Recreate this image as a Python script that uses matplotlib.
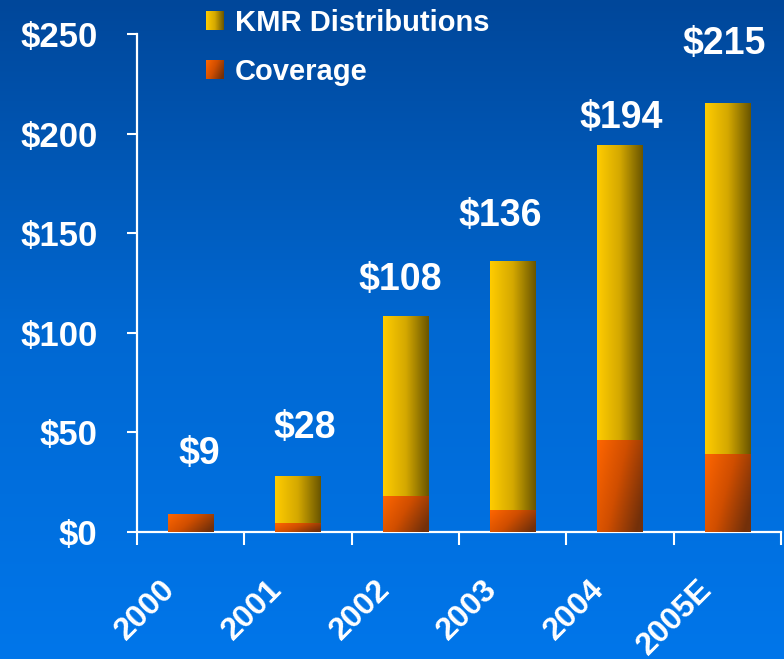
import numpy as np
import matplotlib.pyplot as plt
from matplotlib.colors import LinearSegmentedColormap, Normalize
from matplotlib.patches import Rectangle
from matplotlib.legend_handler import HandlerBase
from matplotlib.image import BboxImage
from matplotlib.transforms import Bbox, TransformedBbox, ScaledTranslation

plt.rcParams['font.family'] = ['Liberation Sans', 'DejaVu Sans']
plt.rcParams['font.weight'] = 'bold'

# data
years = ['2000', '2001', '2002', '2003', '2004', '2005E']
coverage = [9, 4.5, 18, 11, 46, 39]
totals = [9, 28, 108, 136, 194, 215]
kmr = [t - c for t, c in zip(totals, coverage)]
total_labels = ['$9', '$28', '$108', '$136', '$194', '$215']
label_gap = [30, 24, 18.5, 22.5, 14, 30]   # label height above each bar
label_dx = [6, 5, -4, -9, 1, -2]           # small sideways nudge, points
yticks = [0, 50, 100, 150, 200, 250]
ytick_labels = ['$0', '$50', '$100', '$150', '$200', '$250']

yellow = LinearSegmentedColormap.from_list('yel', ['#ffcc00', '#d4a800', '#6a5600'])
orange = LinearSegmentedColormap.from_list('org', ['#ff6600', '#d04e00', '#73300a'])


def grad(kind, n=64):
    xf = np.linspace(0, 1, n)[None, :]
    yf = np.linspace(0, 1, n)[:, None]
    if kind == 'h':
        return np.repeat(xf, n, axis=0)
    return np.clip(0.75 * xf + 0.35 * yf, 0, 1)


fig = plt.figure(figsize=(7.84, 6.59), dpi=100)

# blue background
bg = fig.add_axes([0, 0, 1, 1], zorder=-1)
bgmap = LinearSegmentedColormap.from_list('bg', ['#00479a', '#0068d2', '#0076ea'])
bg.imshow(np.linspace(0, 1, 256)[:, None], cmap=bgmap, aspect='auto', extent=[0, 1, 0, 1])
bg.axis('off')

ax = fig.add_axes([137/784, 1 - 532/659, 644/784, 498/659])
ax.set_facecolor('none')

x = np.arange(len(years))
w = 0.42
b1 = ax.bar(x, coverage, w, color='#e05500', zorder=2)
b2 = ax.bar(x, kmr, w, bottom=coverage, color='#d4a800', zorder=2)

# gradient fill on top of each bar
for bars, cmap, kind in [(b1, orange, 'd'), (b2, yellow, 'h')]:
    for p in bars:
        if p.get_height() <= 0:
            continue
        x0, y0 = p.get_x(), p.get_y()
        ax.imshow(grad(kind), cmap=cmap, norm=Normalize(0, 1), aspect='auto',
                  extent=[x0, x0 + p.get_width(), y0, y0 + p.get_height()],
                  zorder=3, interpolation='bilinear')

for i in range(len(years)):
    ax.annotate(total_labels[i], (x[i], totals[i] + label_gap[i]),
                xytext=(label_dx[i], 0), textcoords='offset points',
                ha='center', va='center', color='white', fontsize=27, fontweight='bold')

ax.set_xlim(-0.5, len(years) - 0.5)
ax.set_ylim(0, 250)

for s in ['top', 'right']:
    ax.spines[s].set_visible(False)
for s in ['left', 'bottom']:
    ax.spines[s].set_color('white')
    ax.spines[s].set_linewidth(1.6)

ax.set_yticks(yticks)
ax.set_yticklabels(ytick_labels)
ax.tick_params(axis='y', colors='white', length=7.5, width=1.5, pad=21, labelsize=25)

ax.set_xticks(x)
ax.set_xticklabels(years, rotation=45, ha='right', va='center', rotation_mode='anchor')
ax.set_xticks(np.arange(-0.5, len(years)), minor=True)
ax.tick_params(axis='x', which='major', length=0, pad=38, labelsize=23, labelcolor='white')
ax.tick_params(axis='x', which='minor', length=9, width=1.5, color='white')
shift = ScaledTranslation(-20/100, 0, fig.dpi_scale_trans)
for lab in ax.get_xticklabels():
    lab.set_transform(lab.get_transform() + shift)


class GradHandler(HandlerBase):
    def __init__(self, cmap, kind):
        super().__init__()
        self.cmap = cmap
        self.kind = kind

    def create_artists(self, legend, orig_handle, xdescent, ydescent, width, height, fontsize, trans):
        bb = TransformedBbox(Bbox.from_bounds(-xdescent, -ydescent, width, height), trans)
        img = BboxImage(bb, cmap=self.cmap, norm=Normalize(0, 1), interpolation='bilinear')
        img.set_data(grad(self.kind))
        return [img]


h1 = Rectangle((0, 0), 1, 1)
h2 = Rectangle((0, 0), 1, 1)
leg = ax.legend([h1, h2], ['KMR Distributions', 'Coverage'],
                handler_map={h1: GradHandler(yellow, 'h'), h2: GradHandler(orange, 'd')},
                loc='upper left', bbox_to_anchor=(206/784, 1 - 9/659),
                bbox_transform=fig.transFigure, frameon=False, borderpad=0,
                borderaxespad=0, handlelength=0.6, handleheight=0.6,
                handletextpad=0.4, labelspacing=0.72, prop={'size': 21, 'weight': 'bold'})
for t in leg.get_texts():
    t.set_color('white')

fig.savefig('out.png', dpi=100)
